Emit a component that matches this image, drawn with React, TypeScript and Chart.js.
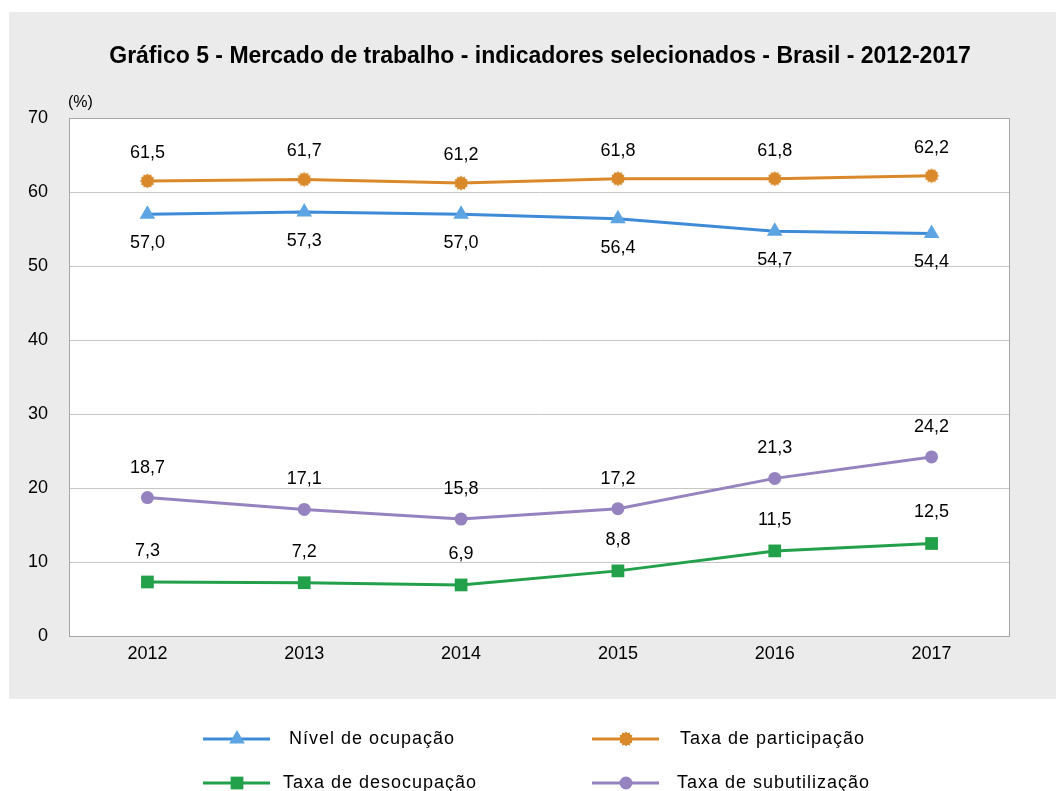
import React, { useEffect, useRef } from "react";
import { Chart, registerables } from "chart.js";

Chart.register(...registerables);

const TITLE = "Gráfico 5 - Mercado de trabalho - indicadores selecionados - Brasil - 2012-2017";
const UNIT_LABEL = "(%)";
const CATEGORIES = ["2012", "2013", "2014", "2015", "2016", "2017"];
const NIVEL_OCUPACAO = [57.0, 57.3, 57.0, 56.4, 54.7, 54.4];
const TAXA_PARTICIPACAO = [61.5, 61.7, 61.2, 61.8, 61.8, 62.2];
const TAXA_DESOCUPACAO = [7.3, 7.2, 6.9, 8.8, 11.5, 12.5];
const TAXA_SUBUTILIZACAO = [18.7, 17.1, 15.8, 17.2, 21.3, 24.2];
const SERIES_NAMES = ["Nível de ocupação", "Taxa de participação", "Taxa de desocupação", "Taxa de subutilização"];
const Y_MIN = 0;
const Y_MAX = 70;
const Y_STEP = 10;

const FONT = "'Liberation Sans', Arial, Helvetica, sans-serif";

function makeBurst(color: string): HTMLCanvasElement {
  const c = document.createElement("canvas");
  const s = 16;
  c.width = s;
  c.height = s;
  const ctx = c.getContext("2d")!;
  const cx = s / 2, cy = s / 2;
  const n = 12;
  const ro = 7.4, ri = 6.0;
  ctx.beginPath();
  for (let i = 0; i < n * 2; i++) {
    const r = i % 2 === 0 ? ro : ri;
    const a = (Math.PI * i) / n;
    const x = cx + r * Math.cos(a);
    const y = cy + r * Math.sin(a);
    if (i === 0) ctx.moveTo(x, y);
    else ctx.lineTo(x, y);
  }
  ctx.closePath();
  ctx.fillStyle = color;
  ctx.fill();
  return c;
}

const fmt = (v: number) => v.toFixed(1).replace(".", ",");

export default function App() {
  const ref = useRef<HTMLCanvasElement | null>(null);
  useEffect(() => {
    if (!ref.current) return;
    const burst = makeBurst("#d9892a");
    const labelOffsets = [29, -28, -31, -30];

    const bgPlugin = {
      id: "bg",
      beforeDraw(chart: any) {
        const { ctx, chartArea } = chart;
        ctx.save();
        ctx.fillStyle = "#ffffff";
        ctx.fillRect(0, 0, chart.width, chart.height);
        ctx.fillStyle = "#ebebeb";
        ctx.fillRect(9, 12, chart.width - 9, 687);
        ctx.fillStyle = "#ffffff";
        ctx.fillRect(chartArea.left, chartArea.top, chartArea.right - chartArea.left, chartArea.bottom - chartArea.top);
        // title
        ctx.fillStyle = "#000";
        ctx.font = `bold 23px ${FONT}`;
        ctx.textAlign = "center";
        ctx.textBaseline = "middle";
        ctx.fillText(TITLE, 540, 57);
        ctx.font = `16px ${FONT}`;
        ctx.textAlign = "left";
        ctx.fillText(UNIT_LABEL, chartArea.left - 1, chartArea.top - 15);
        ctx.restore();
      },
      afterDraw(chart: any) {
        const { ctx, chartArea } = chart;
        ctx.save();
        ctx.strokeStyle = "#a6a6a6";
        ctx.lineWidth = 1;
        ctx.strokeRect(chartArea.left + 0.5, chartArea.top + 0.5, chartArea.right - chartArea.left - 1, chartArea.bottom - chartArea.top);
        // legend
        const cols = [203, 592];
        const rows = [739, 783];
        const textX = [86, 88, 80, 85];
        chart.data.datasets.forEach((ds: any, i: number) => {
          const x0 = cols[i % 2];
          const y = rows[Math.floor(i / 2)];
          ctx.strokeStyle = ds.borderColor;
          ctx.lineWidth = 3;
          ctx.beginPath();
          ctx.moveTo(x0, y);
          ctx.lineTo(x0 + 67, y);
          ctx.stroke();
          const mx = x0 + 34;
          const ps = ds.pointStyle;
          ctx.fillStyle = ds.pointBackgroundColor;
          if (ps === "triangle") {
            const r = ds.pointRadius;
            ctx.beginPath();
            ctx.moveTo(mx, y - r);
            ctx.lineTo(mx + r * 0.866, y + r * 0.5);
            ctx.lineTo(mx - r * 0.866, y + r * 0.5);
            ctx.closePath();
            ctx.fill();
          } else if (ps === "rect") {
            const h = ds.pointRadius * Math.SQRT1_2;
            ctx.fillRect(mx - h, y - h, 2 * h, 2 * h);
          } else if (ps === "circle") {
            ctx.beginPath();
            ctx.arc(mx, y, ds.pointRadius, 0, Math.PI * 2);
            ctx.fill();
          } else if (ps instanceof HTMLCanvasElement) {
            ctx.drawImage(ps, mx - ps.width / 2, y - ps.height / 2);
          }
          ctx.fillStyle = "#000";
          ctx.font = `18px ${FONT}`;
          (ctx as any).letterSpacing = "1px";
          ctx.textAlign = "left";
          ctx.textBaseline = "middle";
          ctx.fillText(ds.label, x0 + textX[i], y);
          (ctx as any).letterSpacing = "0px";
        });
        ctx.restore();
      },
      afterDatasetsDraw(chart: any) {
        const { ctx } = chart;
        ctx.save();
        ctx.fillStyle = "#000";
        ctx.font = `18px ${FONT}`;
        ctx.textAlign = "center";
        ctx.textBaseline = "middle";
        chart.data.datasets.forEach((ds: any, i: number) => {
          const meta = chart.getDatasetMeta(i);
          meta.data.forEach((pt: any, j: number) => {
            ctx.fillText(fmt(ds.data[j]), pt.x, pt.y + labelOffsets[i]);
          });
        });
        ctx.restore();
      },
    };

    const chart = new Chart(ref.current, {
      type: "line",
      data: {
        labels: CATEGORIES,
        datasets: [
          {
            label: SERIES_NAMES[0],
            data: NIVEL_OCUPACAO,
            borderColor: "#3d8bd6",
            backgroundColor: "#5da5e2",
            pointBackgroundColor: "#5da5e2",
            pointBorderColor: "#5da5e2",
            pointStyle: "triangle",
            pointRadius: 9,
            pointBorderWidth: 0,
            borderWidth: 3,
            tension: 0,
          },
          {
            label: SERIES_NAMES[1],
            data: TAXA_PARTICIPACAO,
            borderColor: "#d9892a",
            backgroundColor: "#d9892a",
            pointBackgroundColor: "#d9892a",
            pointStyle: burst as any,
            pointRadius: 8,
            borderWidth: 3,
            tension: 0,
          },
          {
            label: SERIES_NAMES[2],
            data: TAXA_DESOCUPACAO,
            borderColor: "#23a04a",
            backgroundColor: "#23a04a",
            pointBackgroundColor: "#23a04a",
            pointBorderColor: "#23a04a",
            pointStyle: "rect",
            pointRadius: 9,
            pointBorderWidth: 0,
            borderWidth: 3,
            tension: 0,
          },
          {
            label: SERIES_NAMES[3],
            data: TAXA_SUBUTILIZACAO,
            borderColor: "#9583c0",
            backgroundColor: "#9583c0",
            pointBackgroundColor: "#9583c0",
            pointBorderColor: "#9583c0",
            pointStyle: "circle",
            pointRadius: 6.5,
            pointBorderWidth: 0,
            borderWidth: 3,
            tension: 0,
          },
        ],
      },
      options: {
        animation: false,
        responsive: false,
        maintainAspectRatio: false,
        layout: { padding: { left: 0, right: 46, top: 118, bottom: 0 } },
        plugins: {
          legend: { display: false },
          title: { display: false },
          tooltip: { enabled: false },
        },
        scales: {
          x: {
            offset: true,
            grid: { display: false, drawTicks: false },
            border: { display: false },
            ticks: { color: "#000", font: { family: FONT, size: 18 }, padding: 7 },
            afterFit: (s: any) => { s.height = 155; },
          },
          y: {
            min: Y_MIN,
            max: Y_MAX,
            grid: { color: "#c6c6c6", drawTicks: false, lineWidth: 1 },
            border: { display: false },
            ticks: { stepSize: Y_STEP, color: "#000", font: { family: FONT, size: 18 }, padding: 21 },
            afterFit: (s: any) => { s.width = 69; },
          },
        },
      },
      plugins: [bgPlugin],
    });
    return () => chart.destroy();
  }, []);

  return (
    <div style={{ position: "fixed", left: 0, top: 0, width: 1056, height: 791, background: "#fff" }}>
      <canvas ref={ref} width={1056} height={791} style={{ width: 1056, height: 791, display: "block" }} />
    </div>
  );
}
